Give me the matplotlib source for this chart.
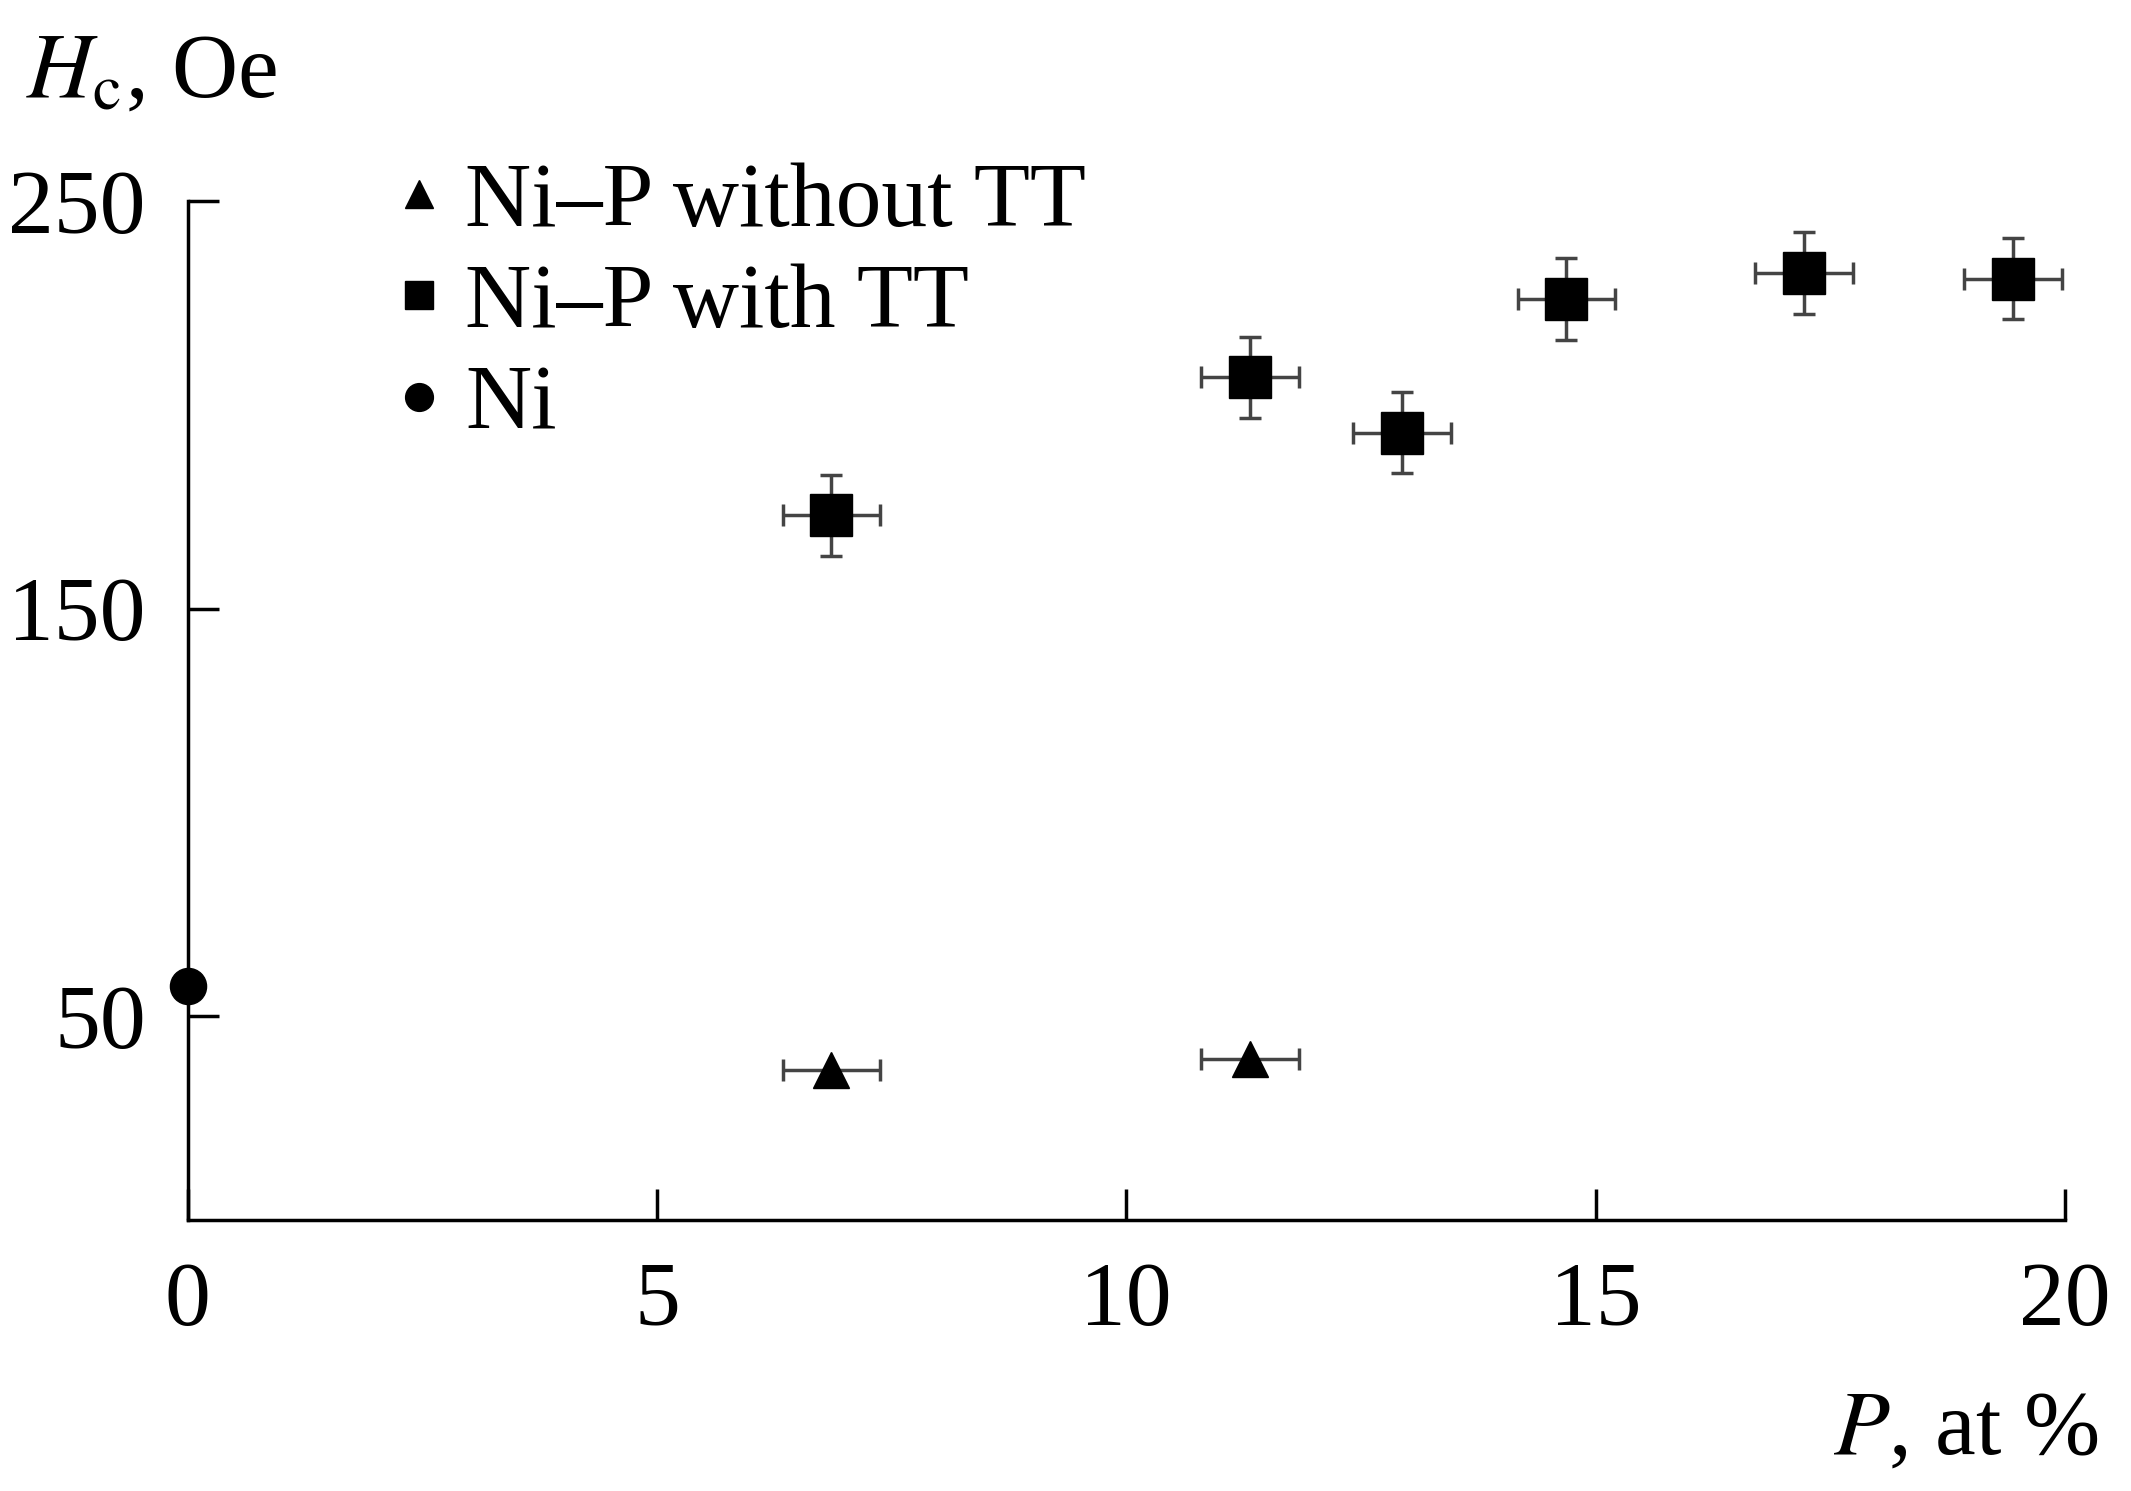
import matplotlib.pyplot as plt
from matplotlib.lines import Line2D
import numpy as np

plt.rcParams["font.family"] = ["Liberation Serif", "DejaVu Serif"]
plt.rcParams["mathtext.fontset"] = "stix"

# Ni-P with heat treatment
p_tt = [6.86, 11.32, 12.94, 14.69, 17.22, 19.45]
hc_tt = [172.9, 206.8, 193.2, 226.0, 232.4, 231.0]
# Ni-P without heat treatment
p_no = [6.86, 11.32]
hc_no = [36.7, 39.4]
# pure Ni
p_ni = [0.0]
hc_ni = [57.3]

xerr = 0.52
yerr = 10.0

fig = plt.figure(figsize=(21.31, 14.91), dpi=100)
ax = fig.add_axes([0.088, 0.182, 0.881, 0.683])

ax.errorbar(p_no, hc_no, xerr=xerr, fmt="^", color="black", ms=26,
            ecolor="#444444", elinewidth=2.5, capsize=8, capthick=2.5,
            clip_on=False)
ax.errorbar(p_tt, hc_tt, xerr=xerr, yerr=yerr, fmt="s", color="black", ms=30,
            ecolor="#444444", elinewidth=2.5, capsize=8, capthick=2.5,
            clip_on=False)
ax.plot(p_ni, hc_ni, "o", color="black", ms=26, clip_on=False)

ax.set_xlim(0, 20)
ax.set_ylim(0, 250)
ax.set_xticks([0, 5, 10, 15, 20])
ax.set_yticks([50, 150, 250])
ax.spines["top"].set_visible(False)
ax.spines["right"].set_visible(False)
for s in ["left", "bottom"]:
    ax.spines[s].set_linewidth(2.5)
ax.tick_params(direction="in", length=22, width=2.5, labelsize=66, pad=30)

fig.text(0.012, 0.935, "$\\mathit{H}_{\\rm c}$, Oe", fontsize=66)
fig.text(0.985, 0.025, "$\\mathit{P}$, at %", fontsize=66, ha="right")

handles = [
    Line2D([], [], marker="^", color="black", ls="none", ms=20),
    Line2D([], [], marker="s", color="black", ls="none", ms=20),
    Line2D([], [], marker="o", color="black", ls="none", ms=20),
]
labels = ["Ni\u2013P without TT", "Ni\u2013P with TT", "Ni"]
ax.legend(handles, labels, loc="upper left", bbox_to_anchor=(0.055, 1.12),
          frameon=False, fontsize=66, handletextpad=0.0,
          handlelength=1.0, labelspacing=0.2)

fig.savefig("out.png", dpi=100)
